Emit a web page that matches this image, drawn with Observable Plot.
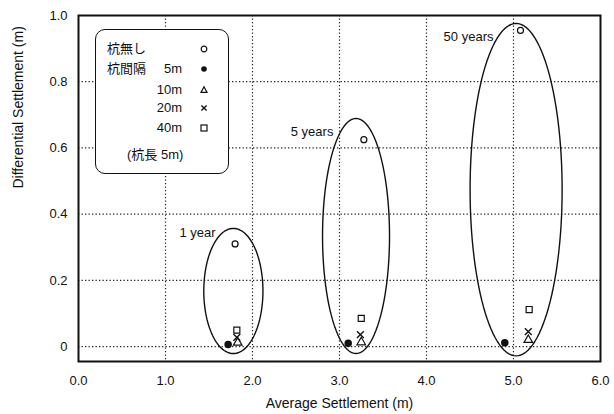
<!DOCTYPE html>
<html>
<head>
<meta charset="utf-8">
<script src="https://cdn.jsdelivr.net/npm/d3@7"></script>
<script src="https://cdn.jsdelivr.net/npm/@observablehq/plot@0.6"></script>
<style>
  html, body { margin: 0; padding: 0; background: #fff; }
  #wrap { position: relative; width: 614px; height: 414px; font-family: "Liberation Sans", Arial, "Noto Sans CJK JP", sans-serif; color: #111; }
  #legend { position: absolute; left: 95px; top: 29px; width: 134px; height: 145px; box-sizing: border-box; border: 1.5px solid #111; border-radius: 10px; background: #fff; font-size: 13px; }
  #legend .t { position: absolute; white-space: nowrap; line-height: 14px; }
  #legend svg { position: absolute; overflow: visible; }
</style>
</head>
<body>
<div id="wrap"></div>
<script>
// ---- data ----
const groups = ["1 year", "5 years", "50 years"];
// 杭無し (no piles) – open circle
const noPileX = [1.80, 3.28, 5.08];
const noPileY = [0.310, 0.625, 0.955];
// 杭間隔 5m – filled circle
const s5X = [1.72, 3.10, 4.90];
const s5Y = [0.006, 0.010, 0.012];
// 10m – triangle
const s10X = [1.83, 3.25, 5.17];
const s10Y = [0.012, 0.013, 0.020];
// 20m – cross
const s20X = [1.82, 3.24, 5.17];
const s20Y = [0.028, 0.036, 0.045];
// 40m – square
const s40X = [1.82, 3.25, 5.18];
const s40Y = [0.050, 0.085, 0.112];
// ellipses enclosing each time group
const ellCx = [1.78, 3.19, 5.03];
const ellCy = [0.168, 0.334, 0.474];
const ellRx = [0.34, 0.385, 0.529];
const ellRy = [0.189, 0.355, 0.502];
// group label anchors (right end of text)
const labelX = [1.575, 2.93, 4.77];
const labelY = [0.344, 0.650, 0.937];
// ticks
const xTicks = [0, 1, 2, 3, 4, 5, 6];
const yTicks = [0, 0.2, 0.4, 0.6, 0.8, 1.0];
const gridX = [1, 2, 3, 4, 5];
const gridY = [0, 0.2, 0.4, 0.6, 0.8];

// ---- build tables ----
const mk = (xs, ys) => xs.map((x, i) => ({x, y: ys[i], g: groups[i]}));
const ptsNo = mk(noPileX, noPileY);
const pts5 = mk(s5X, s5Y);
const pts10 = mk(s10X, s10Y);
const pts20 = mk(s20X, s20Y);
const pts40 = mk(s40X, s40Y);
const ellipsePts = [];
groups.forEach((g, i) => {
  for (let a = 0; a <= 360; a += 3) {
    const t = a * Math.PI / 180;
    ellipsePts.push({g, x: ellCx[i] + ellRx[i] * Math.cos(t), y: ellCy[i] + ellRy[i] * Math.sin(t)});
  }
});
const labels = groups.map((g, i) => ({g, x: labelX[i], y: labelY[i]}));

const dotted = {stroke: "#222", strokeWidth: 1.2, strokeDasharray: "1.3,2.2"};

const chart = Plot.plot({
  width: 614,
  height: 414,
  marginLeft: 78,
  marginRight: 14,
  marginTop: 15,
  marginBottom: 53,
  style: {fontFamily: '"Liberation Sans", Arial, sans-serif', fontSize: "13px", color: "#111", background: "#fff"},
  x: {domain: [0, 6], ticks: xTicks, tickFormat: d3.format(".1f"), tickSize: 0, tickPadding: 14, label: null},
  y: {domain: [-0.045, 1.0], ticks: yTicks, tickFormat: d => d === 0 ? "0" : d.toFixed(1), tickSize: 0, tickPadding: 11, label: null},
  marks: [
    Plot.ruleX(gridX, {...dotted}),
    Plot.ruleY(gridY, {...dotted}),
    Plot.frame({stroke: "#111", strokeWidth: 2}),
    Plot.line(ellipsePts, {x: "x", y: "y", z: "g", stroke: "#111", strokeWidth: 1.4, curve: "linear"}),
    Plot.dot(ptsNo, {x: "x", y: "y", r: 3, fill: "#fff", stroke: "#111", strokeWidth: 1.2}),
    Plot.dot(pts5, {x: "x", y: "y", r: 3, fill: "#111", stroke: "#111"}),
    Plot.dot(pts10, {x: "x", y: "y", r: 3.2, symbol: "triangle", fill: "#fff", stroke: "#111", strokeWidth: 1.2}),
    Plot.dot(pts20, {x: "x", y: "y", r: 3.2, symbol: "times", stroke: "#111", strokeWidth: 1.4}),
    Plot.dot(pts40, {x: "x", y: "y", r: 3.4, symbol: "square", fill: "#fff", stroke: "#111", strokeWidth: 1.2}),
    Plot.text(labels, {x: "x", y: "y", text: "g", textAnchor: "end", fontSize: 13, fill: "#111"}),
    Plot.text(["Average Settlement (m)"], {frameAnchor: "bottom", dy: 46, fontSize: 14, fill: "#111"}),
    Plot.text(["Differential Settlement (m)"], {frameAnchor: "left", dx: -60, rotate: -90, fontSize: 14, fill: "#111"})
  ]
});

const wrap = document.getElementById("wrap");
wrap.appendChild(chart);

// ---- legend (HTML overlay) ----
const legendRows = [
  {left: "杭無し", right: "", sym: "open"},
  {left: "杭間隔", right: "5m", sym: "filled"},
  {left: "", right: "10m", sym: "tri"},
  {left: "", right: "20m", sym: "x"},
  {left: "", right: "40m", sym: "sq"}
];
const leg = document.createElement("div");
leg.id = "legend";
const rowTop = [12, 32, 53, 71, 91];
const symSvg = {
  open: '<circle cx="0" cy="0" r="2.8" fill="#fff" stroke="#111" stroke-width="1.2"/>',
  filled: '<circle cx="0" cy="0" r="2.8" fill="#111"/>',
  tri: '<path d="M0,-3.2L3,2.4L-3,2.4Z" fill="#fff" stroke="#111" stroke-width="1.2"/>',
  x: '<path d="M-2.6,-2.6L2.6,2.6M-2.6,2.6L2.6,-2.6" stroke="#111" stroke-width="1.4"/>',
  sq: '<rect x="-3" y="-3" width="6" height="6" fill="#fff" stroke="#111" stroke-width="1.2"/>'
};
legendRows.forEach((r, i) => {
  if (r.left) {
    const t = document.createElement("div");
    t.className = "t";
    t.style.top = rowTop[i] + "px";
    t.style.left = "11px";
    t.textContent = r.left;
    leg.appendChild(t);
  }
  if (r.right) {
    const t = document.createElement("div");
    t.className = "t";
    t.style.top = rowTop[i] + "px";
    t.style.right = "46px";
    t.textContent = r.right;
    leg.appendChild(t);
  }
  const s = document.createElementNS("http://www.w3.org/2000/svg", "svg");
  s.setAttribute("width", "1"); s.setAttribute("height", "1");
  s.style.left = "108px"; s.style.top = (rowTop[i] + 7) + "px";
  s.innerHTML = symSvg[r.sym];
  leg.appendChild(s);
});
const note = document.createElement("div");
note.className = "t";
note.style.top = "118px";
note.style.left = "31px";
note.textContent = "(杭長 5m)";
leg.appendChild(note);
wrap.appendChild(leg);
</script>
</body>
</html>
